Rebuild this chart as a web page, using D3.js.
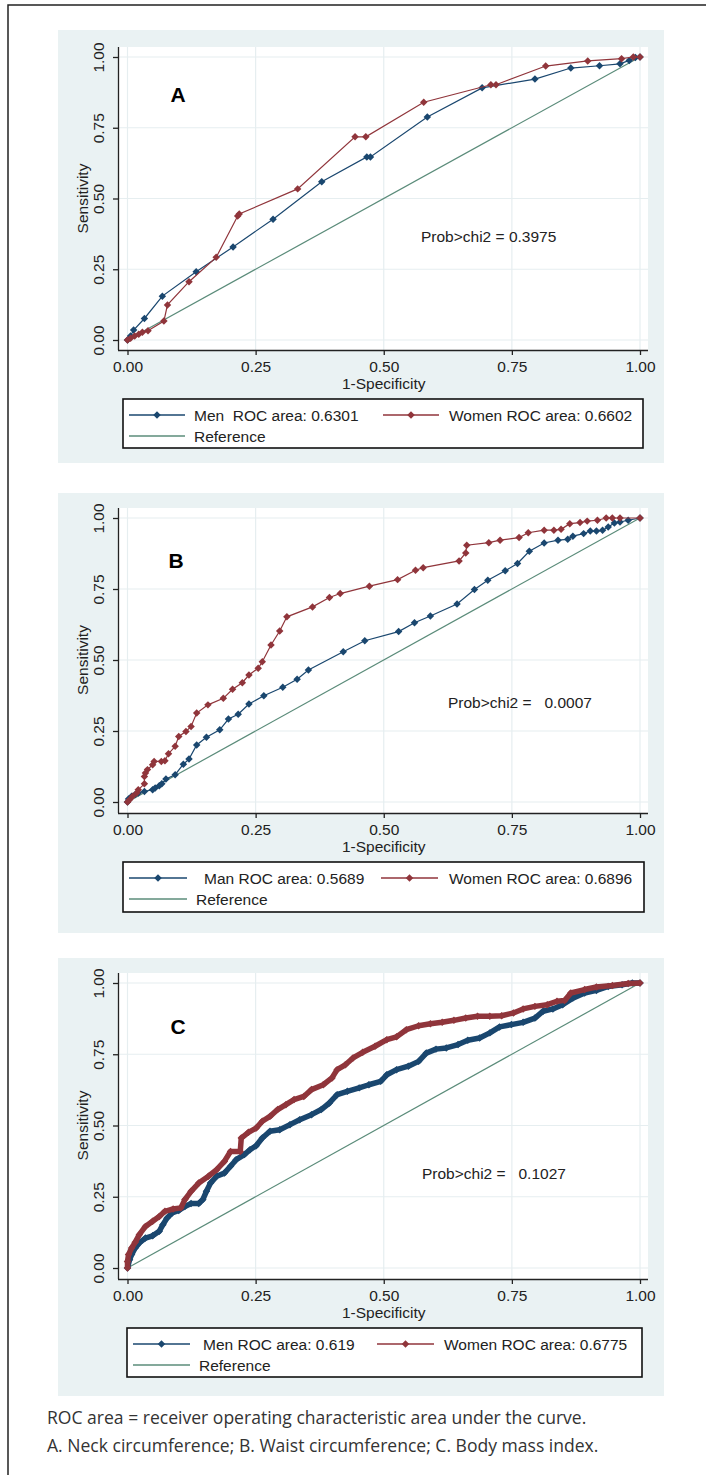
<!DOCTYPE html>
<html>
<head>
<meta charset="utf-8">
<script src="https://cdn.jsdelivr.net/npm/d3@7"></script>
<style>
  body { margin: 0; background: #fff; }
  svg { display: block; }
  text { font-family: "Liberation Sans", Arial, sans-serif; }
  text.caption { font-family: "Open Sans", "Noto Sans", sans-serif; }
</style>
</head>
<body>
<svg id="fig" width="706" height="1475"></svg>
<script>
// ---- data ----
const ticks = [0, 0.25, 0.5, 0.75, 1];
const tickLabels = ["0.00", "0.25", "0.50", "0.75", "1.00"];
const panelLetters = ["A", "B", "C"];
const menLabels = ["Men  ROC area: 0.6301", "Man ROC area: 0.5689", "Men ROC area: 0.619"];
const womenLabels = ["Women ROC area: 0.6602", "Women ROC area: 0.6896", "Women ROC area: 0.6775"];
const probLabels = ["Prob>chi2 = 0.3975", "Prob>chi2 =   0.0007", "Prob>chi2 =   0.1027"];
const captionLines = [
  "ROC area = receiver operating characteristic area under the curve.",
  "A. Neck circumference; B. Waist circumference; C. Body mass index."
];
const reference = [[0, 0], [1, 1]];

// panel A: neck circumference
const menA = [[0,0],[0.006,0.014],[0.012,0.035],[0.033,0.076],[0.068,0.155],[0.134,0.241],
  [0.206,0.329],[0.284,0.427],[0.379,0.559],[0.467,0.647],[0.474,0.647],[0.585,0.788],
  [0.692,0.891],[0.795,0.922],[0.865,0.961],[0.921,0.969],[0.961,0.976],[0.979,0.988],
  [0.991,0.998],[1,1]];
const womenA = [[0,0],[0.006,0.006],[0.014,0.014],[0.022,0.020],[0.029,0.027],[0.040,0.033],
  [0.071,0.067],[0.078,0.124],[0.120,0.206],[0.173,0.292],[0.215,0.438],[0.218,0.445],
  [0.332,0.534],[0.444,0.718],[0.465,0.718],[0.578,0.840],[0.709,0.902],[0.719,0.902],
  [0.816,0.968],[0.898,0.986],[0.964,0.994],[0.987,1],[1,1]];

// panel B: waist circumference
const menB = [[0,0],[0.002,0.011],[0.008,0.020],[0.015,0.026],[0.021,0.032],[0.033,0.037],
  [0.049,0.043],[0.054,0.049],[0.062,0.057],[0.067,0.064],[0.075,0.081],[0.093,0.096],
  [0.109,0.133],[0.120,0.151],[0.135,0.201],[0.154,0.228],[0.180,0.254],[0.197,0.292],
  [0.216,0.309],[0.237,0.345],[0.266,0.374],[0.303,0.404],[0.331,0.432],[0.353,0.465],
  [0.421,0.529],[0.463,0.568],[0.529,0.600],[0.560,0.631],[0.591,0.655],[0.643,0.697],
  [0.677,0.748],[0.703,0.781],[0.737,0.814],[0.761,0.840],[0.784,0.883],[0.813,0.912],
  [0.840,0.922],[0.859,0.925],[0.869,0.936],[0.890,0.945],[0.903,0.954],[0.915,0.954],
  [0.927,0.957],[0.938,0.968],[0.950,0.982],[0.961,0.986],[0.977,0.992],[1,1]];
const womenB = [[0,0],[0.004,0.008],[0.010,0.020],[0.018,0.032],[0.021,0.043],[0.033,0.064],
  [0.033,0.090],[0.035,0.102],[0.039,0.114],[0.049,0.131],[0.052,0.143],[0.066,0.143],
  [0.073,0.145],[0.080,0.170],[0.093,0.196],[0.100,0.231],[0.114,0.248],[0.124,0.266],
  [0.135,0.313],[0.157,0.342],[0.187,0.365],[0.205,0.397],[0.224,0.420],[0.237,0.447],
  [0.255,0.471],[0.263,0.494],[0.280,0.553],[0.297,0.602],[0.311,0.652],[0.361,0.687],
  [0.394,0.720],[0.415,0.734],[0.472,0.760],[0.527,0.783],[0.562,0.816],[0.577,0.825],
  [0.647,0.849],[0.660,0.877],[0.662,0.904],[0.705,0.913],[0.727,0.922],[0.764,0.931],
  [0.782,0.948],[0.813,0.957],[0.832,0.957],[0.846,0.960],[0.863,0.980],[0.883,0.984],
  [0.897,0.989],[0.917,0.992],[0.934,1],[0.946,1],[0.961,1],[1,1]];

// panel C: body mass index
const menC = [[0,0],[0.004,0.029],[0.008,0.047],[0.015,0.070],[0.023,0.088],[0.035,0.105],
  [0.049,0.113],[0.062,0.129],[0.069,0.152],[0.077,0.175],[0.087,0.193],[0.100,0.202],
  [0.112,0.216],[0.124,0.226],[0.139,0.226],[0.147,0.240],[0.154,0.269],[0.162,0.298],
  [0.174,0.322],[0.189,0.333],[0.201,0.357],[0.212,0.380],[0.228,0.398],[0.239,0.415],
  [0.251,0.429],[0.263,0.456],[0.278,0.480],[0.297,0.485],[0.317,0.503],[0.336,0.520],
  [0.359,0.538],[0.378,0.556],[0.394,0.579],[0.409,0.608],[0.429,0.620],[0.452,0.632],
  [0.471,0.643],[0.494,0.655],[0.506,0.678],[0.525,0.696],[0.548,0.708],[0.568,0.725],
  [0.583,0.754],[0.602,0.768],[0.622,0.772],[0.645,0.784],[0.664,0.799],[0.687,0.807],
  [0.707,0.825],[0.726,0.846],[0.749,0.854],[0.772,0.862],[0.795,0.877],[0.811,0.901],
  [0.830,0.909],[0.849,0.924],[0.869,0.947],[0.892,0.965],[0.915,0.974],[0.938,0.988],
  [0.965,0.994],[0.985,1],[1,1]];
const womenC = [[0,0],[0,0.023],[0.002,0.047],[0.008,0.070],[0.015,0.090],[0.023,0.117],
  [0.035,0.146],[0.049,0.164],[0.062,0.181],[0.073,0.199],[0.089,0.207],[0.104,0.211],
  [0.112,0.240],[0.124,0.269],[0.139,0.298],[0.158,0.322],[0.174,0.345],[0.189,0.374],
  [0.201,0.409],[0.220,0.409],[0.222,0.456],[0.236,0.476],[0.251,0.491],[0.263,0.515],
  [0.278,0.532],[0.293,0.556],[0.309,0.573],[0.325,0.591],[0.344,0.602],[0.359,0.626],
  [0.382,0.643],[0.399,0.667],[0.409,0.696],[0.425,0.713],[0.440,0.737],[0.459,0.757],
  [0.483,0.778],[0.506,0.801],[0.525,0.811],[0.544,0.836],[0.568,0.850],[0.591,0.857],
  [0.614,0.862],[0.637,0.869],[0.660,0.877],[0.683,0.883],[0.707,0.883],[0.730,0.885],
  [0.753,0.895],[0.772,0.909],[0.795,0.918],[0.819,0.924],[0.838,0.936],[0.853,0.939],
  [0.865,0.965],[0.892,0.977],[0.915,0.986],[0.946,0.991],[0.977,0.998],[1,1]];

const menSeries = [menA, menB, menC];
const womenSeries = [womenA, womenB, womenC];

// ---- styling / layout ----
const NAVY = "#1a476f", MAROON = "#90353b", REF = "#5b8c7a";
const BG = "#eaf2f3", GRID = "#e6eef0";
const FS = 15.5;

const layout = [
  { bg: [30, 463], top: 47, y1: 57, y0: 340, axis: 350, letter: [178, 94], prob: [421, 236], band: 0,
    legend: { top: 399, bottom: 448, left: 123, right: 643, men: [129, 185, 194], women: [383, 439, 449], ref: 194 } },
  { bg: [493, 933], top: 508, y1: 518, y0: 802, axis: 813, letter: [176, 560], prob: [448, 702], band: 0,
    legend: { top: 862, bottom: 912, left: 123, right: 644, men: [129, 187, 204], women: [381, 438, 449], ref: 196 } },
  { bg: [958, 1396], top: 973, y1: 983, y0: 1268, axis: 1279, letter: [178, 1026], prob: [422, 1173], band: 5.5,
    legend: { top: 1328, bottom: 1377, left: 127, right: 642, men: [133, 190, 203], women: [377, 434, 444], ref: 199 } }
];

const svg = d3.select("#fig");

// outer frame (top and left rule)
svg.append("path")
  .attr("d", "M8,1475V5H706")
  .attr("fill", "none")
  .attr("stroke", "#222")
  .attr("stroke-width", 1.5);

const diamond = d3.symbol().type(d3.symbolSquare).size(28);

layout.forEach((L, i) => {
  const g = svg.append("g");
  const x = d3.scaleLinear().domain([0, 1]).range([127.5, 640]);
  const y = d3.scaleLinear().domain([0, 1]).range([L.y0, L.y1]);
  const axisX = 118, plotRight = 648;

  // graph region + plot region
  g.append("rect").attr("x", 58).attr("y", L.bg[0])
    .attr("width", 664 - 58).attr("height", L.bg[1] - L.bg[0]).attr("fill", BG);
  g.append("rect").attr("x", axisX).attr("y", L.top)
    .attr("width", plotRight - axisX).attr("height", L.axis - L.top).attr("fill", "#fff");

  // grid
  g.append("g").selectAll("line").data(ticks).join("line")
    .attr("x1", axisX).attr("x2", plotRight)
    .attr("y1", d => y(d)).attr("y2", d => y(d))
    .attr("stroke", GRID).attr("stroke-width", 1.2);
  g.append("g").selectAll("line").data(ticks).join("line")
    .attr("x1", d => x(d)).attr("x2", d => x(d))
    .attr("y1", L.top).attr("y2", L.axis)
    .attr("stroke", GRID).attr("stroke-width", 1.2);

  // axes
  const xAxis = g.append("g").attr("transform", `translate(0,${L.axis})`)
    .call(d3.axisBottom(x).tickValues(ticks).tickSize(5).tickSizeOuter(0).tickFormat((d, k) => tickLabels[k]));
  xAxis.select(".domain").attr("d", `M${axisX},0.5H${plotRight}`).attr("stroke", "#222").attr("stroke-width", 1.3);
  xAxis.selectAll(".tick line").attr("stroke", "#222").attr("stroke-width", 1.3);
  xAxis.selectAll(".tick text").attr("y", 11).attr("dy", "0.71em")
    .attr("font-size", FS).attr("font-family", "Liberation Sans, Arial, sans-serif").attr("fill", "#222");

  const yAxis = g.append("g").attr("transform", `translate(${axisX},0)`)
    .call(d3.axisLeft(y).tickValues(ticks).tickSize(5).tickSizeOuter(0).tickFormat((d, k) => tickLabels[k]));
  yAxis.select(".domain").attr("d", `M0.5,${L.top}V${L.axis}`).attr("stroke", "#222").attr("stroke-width", 1.3);
  yAxis.selectAll(".tick line").attr("stroke", "#222").attr("stroke-width", 1.3);
  yAxis.selectAll(".tick text")
    .attr("x", null).attr("dy", null)
    .attr("text-anchor", "middle")
    .attr("transform", "translate(-20,0) rotate(-90)")
    .attr("dominant-baseline", "central")
    .attr("font-size", FS).attr("font-family", "Liberation Sans, Arial, sans-serif").attr("fill", "#222");

  // axis titles
  g.append("text").attr("x", (x(0) + x(1)) / 2).attr("y", L.axis + 33)
    .attr("text-anchor", "middle").attr("dominant-baseline", "central")
    .attr("font-size", FS).attr("fill", "#222").text("1-Specificity");
  g.append("text")
    .attr("transform", `translate(82,${(y(0) + y(1)) / 2}) rotate(-90)`)
    .attr("text-anchor", "middle").attr("dominant-baseline", "central")
    .attr("font-size", FS).attr("fill", "#222").text("Sensitivity");

  // curves
  const line = d3.line().x(d => x(d[0])).y(d => y(d[1]));
  g.append("path").datum(reference).attr("d", line)
    .attr("fill", "none").attr("stroke", REF).attr("stroke-width", 1.2);

  [[menSeries[i], NAVY], [womenSeries[i], MAROON]].forEach(([pts, col]) => {
    if (L.band) {
      g.append("path").datum(pts).attr("d", line)
        .attr("fill", "none").attr("stroke", col).attr("stroke-width", L.band)
        .attr("stroke-linejoin", "round");
    }
    g.append("path").datum(pts).attr("d", line)
      .attr("fill", "none").attr("stroke", col).attr("stroke-width", 1.2);
    g.append("g").selectAll("path").data(pts).join("path")
      .attr("d", diamond)
      .attr("transform", d => `translate(${x(d[0])},${y(d[1])}) rotate(45)`)
      .attr("fill", col);
  });

  // panel letter and test result
  g.append("text").attr("x", L.letter[0]).attr("y", L.letter[1])
    .attr("text-anchor", "middle").attr("dominant-baseline", "central")
    .attr("font-size", 21).attr("font-weight", "bold").attr("fill", "#000")
    .text(panelLetters[i]);
  g.append("text").attr("x", L.prob[0]).attr("y", L.prob[1])
    .attr("dominant-baseline", "central").style("white-space", "pre")
    .attr("font-size", FS).attr("fill", "#222").text(probLabels[i]);

  // legend
  const lg = L.legend;
  const r1 = lg.top + 16, r2 = lg.top + 37;
  g.append("rect").attr("x", lg.left).attr("y", lg.top)
    .attr("width", lg.right - lg.left).attr("height", lg.bottom - lg.top)
    .attr("fill", "#fff").attr("stroke", "#111").attr("stroke-width", 1.6);
  const keys = [
    { x0: lg.men[0], x1: lg.men[1], tx: lg.men[2], yy: r1, col: NAVY, mark: true, label: menLabels[i] },
    { x0: lg.women[0], x1: lg.women[1], tx: lg.women[2], yy: r1, col: MAROON, mark: true, label: womenLabels[i] },
    { x0: lg.men[0], x1: lg.men[1], tx: lg.ref, yy: r2, col: REF, mark: false, label: "Reference" }
  ];
  keys.forEach(k => {
    g.append("line").attr("x1", k.x0).attr("x2", k.x1).attr("y1", k.yy).attr("y2", k.yy)
      .attr("stroke", k.col).attr("stroke-width", 1.4);
    if (k.mark) {
      g.append("path").attr("d", diamond)
        .attr("transform", `translate(${(k.x0 + k.x1) / 2},${k.yy}) rotate(45)`)
        .attr("fill", k.col);
    }
    g.append("text").attr("x", k.tx).attr("y", k.yy)
      .attr("dominant-baseline", "central").style("white-space", "pre")
      .attr("font-size", FS).attr("fill", "#222").text(k.label);
  });
});

// caption
const cap = svg.append("g");
const capTexts = cap.selectAll("text").data(captionLines).join("text")
  .attr("class", "caption")
  .attr("x", 47).attr("y", (d, k) => 1424 + k * 28)
  .attr("font-size", 100).attr("fill", "#333")
  .text(d => d);
// fit first line to its width in the picture
const w100 = capTexts.nodes()[0].getComputedTextLength();
capTexts.attr("font-size", 100 * 540 / w100);
</script>
</body>
</html>
